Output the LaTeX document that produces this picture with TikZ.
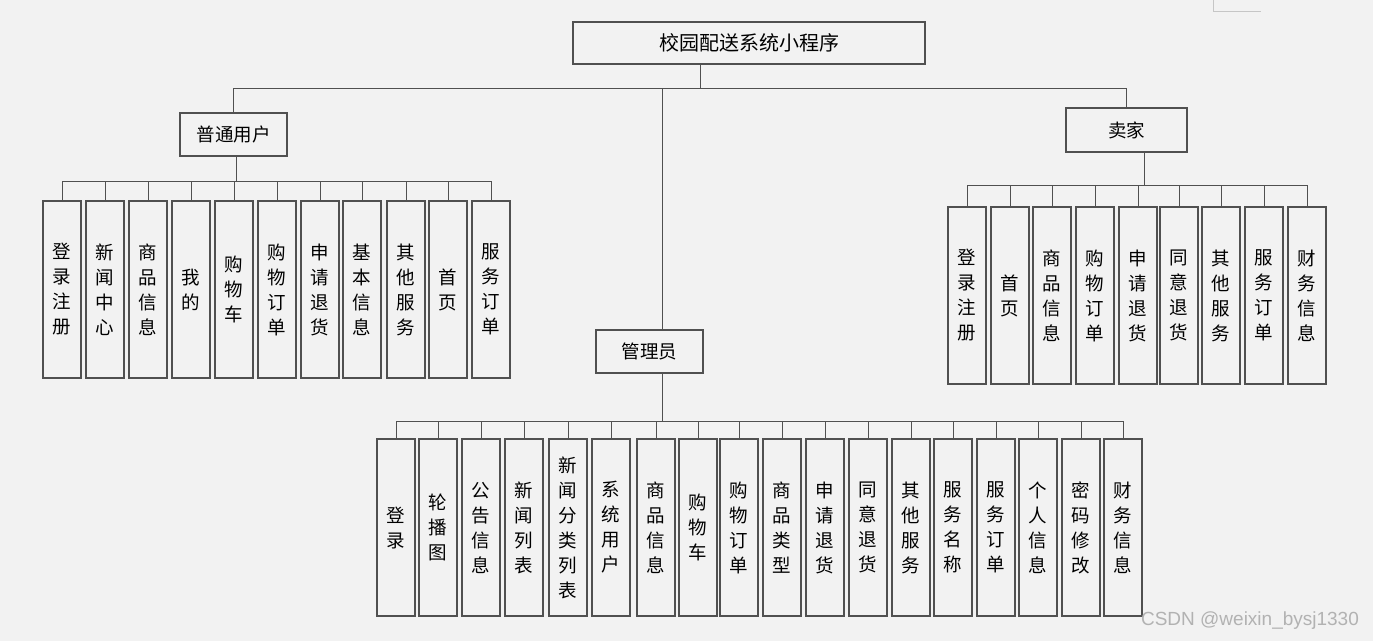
\documentclass[tikz,border=0pt]{standalone}
\usepackage{fontspec}
\newfontfamily\cjk{Noto Sans CJK SC}
\newfontfamily\wmfont{Liberation Sans}
\definecolor{bg}{HTML}{F2F2F2}
\definecolor{ln}{HTML}{505050}
\tikzset{
  boxbase/.style={draw=ln, line width=1.1pt, fill=bg, inner sep=0pt},
  head/.style={boxbase, font=\cjk\fontsize{18.5}{18.5}\selectfont},
  leaf/.style={boxbase, minimum width=38pt, minimum height=177pt, align=center,
               font=\cjk\fontsize{18.5}{25}\selectfont},
  wire/.style={draw=ln, line width=0.9pt},
}
\begin{document}
\begin{tikzpicture}[x=1pt,y=-1pt]
\fill[bg] (0,0) rectangle (1373,641);
\useasboundingbox (0,0) rectangle (1373,641);
\draw[gray!45, line width=0.8pt] (1213,0) -- (1213,11) -- (1261,11);

% heads
\node[head, minimum width=352pt, minimum height=42pt, font=\cjk\fontsize{20}{20}\selectfont] (top) at (749,43) {校园配送系统小程序};
\node[head, minimum width=107pt, minimum height=43pt] (uu) at (233.5,134.5) {普通用户};
\node[head, minimum width=121pt, minimum height=44pt] (sell) at (1126.5,130) {卖家};
\node[head, minimum width=107pt, minimum height=43pt] (adm) at (649.5,351.5) {管理员};

% user leaves
\foreach \x/\t [count=\i] in {43/{登\\录\\注\\册},86/{新\\闻\\中\\心},129/{商\\品\\信\\息},172/{我\\的},215/{购\\物\\车},258/{购\\物\\订\\单},301/{申\\请\\退\\货},343/{基\\本\\信\\息},387/{其\\他\\服\\务},429/{首\\页},472/{服\\务\\订\\单}}
  \node[leaf] (u\i) at (\x+19,289.5) {\t};

% seller leaves
\foreach \x/\t [count=\i] in {948/{登\\录\\注\\册},991/{首\\页},1033/{商\\品\\信\\息},1076/{购\\物\\订\\单},1119/{申\\请\\退\\货},1160/{同\\意\\退\\货},1202/{其\\他\\服\\务},1245/{服\\务\\订\\单},1288/{财\\务\\信\\息}}
  \node[leaf] (s\i) at (\x+19,295.5) {\t};

% admin leaves
\foreach \x/\t [count=\i] in {377/{登\\录},419/{轮\\播\\图},462/{公\\告\\信\\息},505/{新\\闻\\列\\表},549/{新\\闻\\分\\类\\列\\表},592/{系\\统\\用\\户},637/{商\\品\\信\\息},679/{购\\物\\车},720/{购\\物\\订\\单},763/{商\\品\\类\\型},806/{申\\请\\退\\货},849/{同\\意\\退\\货},892/{其\\他\\服\\务},934/{服\\务\\名\\称},977/{服\\务\\订\\单},1019/{个\\人\\信\\息},1062/{密\\码\\修\\改},1104/{财\\务\\信\\息}}
  \node[leaf] (a\i) at (\x+19,527.5) {\t};

% top level connectors
\coordinate (j0) at (700,88);
\coordinate (j1) at (662,88);
\draw[wire] (j0) -- (j0 |- top.south);
\draw[wire] (uu.north |- j0) -- (sell.north |- j0);
\draw[wire] (uu.north) -- (uu.north |- j0);
\draw[wire] (sell.north) -- (sell.north |- j0);
\draw[wire] (j1) -- (j1 |- adm.north);

% user bus
\coordinate (j2) at (236,181);
\draw[wire] (j2) -- (j2 |- uu.south);
\draw[wire] (u1.north |- j2) -- (u11.north |- j2);
\foreach \i in {1,...,11} \draw[wire] (u\i.north) -- (u\i.north |- j2);

% seller bus
\coordinate (j3) at (1144,185);
\draw[wire] (j3) -- (j3 |- sell.south);
\draw[wire] (s1.north |- j3) -- (s9.north |- j3);
\foreach \i in {1,...,9} \draw[wire] (s\i.north) -- (s\i.north |- j3);

% admin bus
\coordinate (j4) at (662,421);
\draw[wire] (j4) -- (j4 |- adm.south);
\draw[wire] (a1.north |- j4) -- (a18.north |- j4);
\foreach \i in {1,...,18} \draw[wire] (a\i.north) -- (a\i.north |- j4);

% watermark
\node[text=gray!60, font=\wmfont\fontsize{19}{19}\selectfont, inner sep=0pt] (wm) at (1250,621) {CSDN @weixin\_bysj1330};
\end{tikzpicture}
\end{document}
